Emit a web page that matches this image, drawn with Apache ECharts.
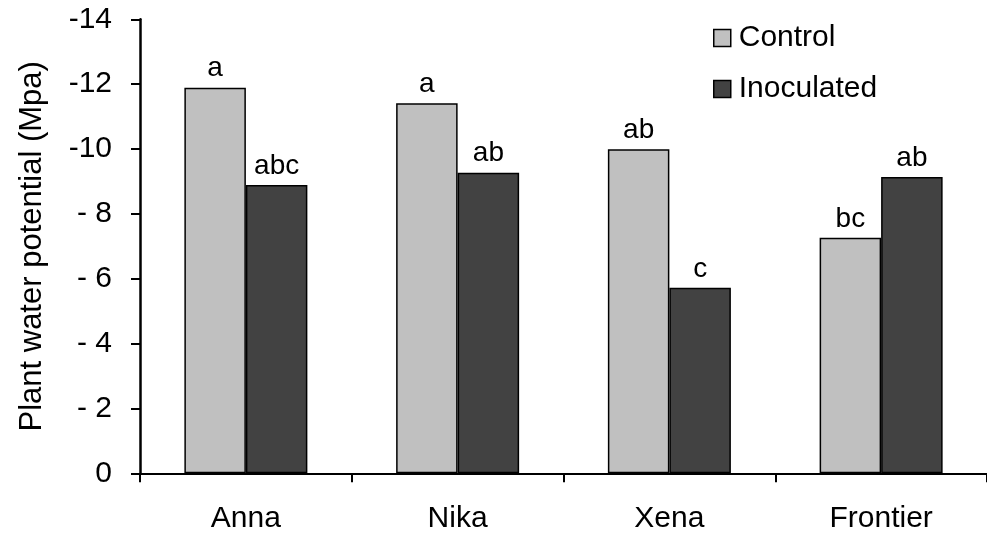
<!DOCTYPE html>
<html>
<head>
<meta charset="utf-8">
<script src="https://cdn.jsdelivr.net/npm/echarts@6/dist/echarts.min.js"></script>
<style>html,body{margin:0;padding:0;background:#fff;}#c{width:987px;height:539px;}</style>
</head>
<body>
<div id="c"></div>
<script>
var categories = ['Anna', 'Nika', 'Xena', 'Frontier'];
var controlValues = [-11.89, -11.41, -9.99, -7.26];
var inoculatedValues = [-8.89, -9.27, -5.72, -9.14];
var controlLetters = ['a', 'a', 'ab', 'bc'];
var inoculatedLetters = ['abc', 'ab', 'c', 'ab'];
var yTicks = { min: -14, max: 0, step: 2 };

var FONT = '"Liberation Sans", Arial, sans-serif';
var chart = echarts.init(document.getElementById('c'), null, { renderer: 'canvas' });

function tickLabel(v) {
  if (v === 0) return '0';
  if (v > -10) return '- ' + (-v);
  return String(v);
}

var option = {
  animation: false,
  backgroundColor: '#fff',
  grid: { left: 140, right: 0, top: 19.3, bottom: 65.7, containLabel: false },
  legend: {
    orient: 'vertical',
    left: 713,
    top: 21,
    padding: 0,
    itemWidth: 17,
    itemHeight: 17,
    itemGap: 17,
    icon: 'rect',
    itemStyle: { borderColor: '#000', borderWidth: 1.5 },
    textStyle: { fontFamily: FONT, fontSize: 30, color: '#000', lineHeight: 34, padding: [0, 0, 0, 3] },
    data: ['Control', 'Inoculated']
  },
  xAxis: {
    type: 'category',
    data: categories,
    axisLine: { show: true, lineStyle: { color: '#000', width: 2 } },
    axisTick: { show: true, length: 9, lineStyle: { color: '#000', width: 2 } },
    axisLabel: { fontFamily: FONT, fontSize: 30, color: '#000', margin: 30 },
    splitLine: { show: false }
  },
  yAxis: {
    type: 'value',
    min: yTicks.min,
    max: yTicks.max,
    interval: yTicks.step,
    inverse: true,
    name: 'Plant water potential (Mpa)',
    nameLocation: 'middle',
    nameRotate: 90,
    nameGap: 92,
    nameTextStyle: { fontFamily: FONT, fontSize: 31, color: '#000' },
    axisLine: { show: true, lineStyle: { color: '#000', width: 2.5 } },
    axisTick: { show: true, length: 9, lineStyle: { color: '#000', width: 2 } },
    axisLabel: { fontFamily: FONT, fontSize: 30, color: '#000', margin: 28, formatter: tickLabel },
    splitLine: { show: false }
  },
  series: [
    {
      name: 'Control',
      type: 'bar',
      data: controlValues,
      barWidth: 61.5,
      barGap: '0%',
      itemStyle: { color: '#c0c0c0', borderColor: '#000', borderWidth: 1.5 },
      label: {
        show: true, position: 'top', distance: 5,
        fontFamily: FONT, fontSize: 28, color: '#000',
        formatter: function (p) { return controlLetters[p.dataIndex]; }
      }
    },
    {
      name: 'Inoculated',
      type: 'bar',
      data: inoculatedValues,
      barWidth: 61.5,
      barGap: '0%',
      itemStyle: { color: '#424242', borderColor: '#000', borderWidth: 1.5 },
      label: {
        show: true, position: 'top', distance: 5,
        fontFamily: FONT, fontSize: 28, color: '#000',
        formatter: function (p) { return inoculatedLetters[p.dataIndex]; }
      }
    }
  ]
};
chart.setOption(option);
</script>
</body>
</html>
